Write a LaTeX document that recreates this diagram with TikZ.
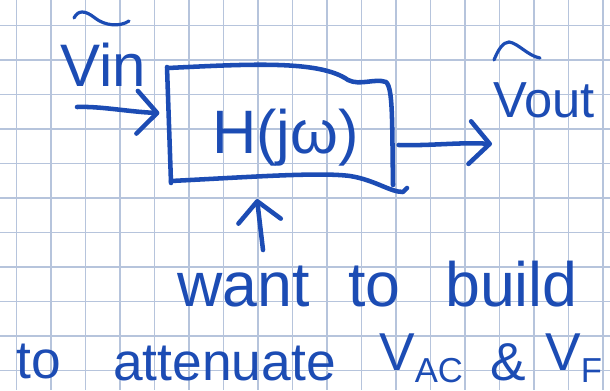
\documentclass[tikz,border=0pt]{standalone}
\usepackage{fontspec}
\setmainfont{Liberation Sans}
\usetikzlibrary{arrows.meta}
\definecolor{ink}{RGB}{28,76,180}
\definecolor{gridc}{RGB}{182,196,220}
\begin{document}
\begin{tikzpicture}[x=0.75pt,y=-0.75pt,
  pen/.style={draw=ink, line width=3.4pt, line cap=round, line join=round},
  accent/.style={draw=ink, line width=2.4pt, line cap=round},
  hw/.style={text=ink, inner sep=0pt, anchor=base west},
  barb/.style={-{Straight Barb[length=15pt,width=32pt,round]}},
  gridline/.style={draw=gridc, line width=1.1pt}]
\fill[white] (0,0) rectangle (610,390);
\useasboundingbox (0,0) rectangle (610,390);
% grid paper
\foreach \i in {0,...,17} \draw[gridline] ({16.3+34.5*\i},0) -- ++(0,390);
\foreach \j in {0,...,10} \draw[gridline] (0,{25.3+34.5*\j}) -- ++(610,0);
% block
\node[minimum width=168pt, minimum height=87pt, inner sep=0pt] (box) at (281,125) {};
\draw[pen] (168,68) .. controls (250,64) and (320,60) .. (348,80)
  .. controls (360,86) and (375,78) .. (386,82)
  .. controls (393,88) and (392,120) .. (393,185);
\draw[pen] (167,67) -- (171,183);
\draw[pen] (171,181) .. controls (250,177) and (320,172) .. (350,176)
  .. controls (375,180) and (390,192) .. (403,192) -- (407,188);
\node[hw, font=\fontsize{46}{46}\selectfont] (h) at (212,153) {H(jω)};
% input
\node[hw, font=\fontsize{45}{45}\selectfont] (vin) at (60,86) {Vin};
\draw[accent] (74,18) .. controls (78,10) and (85,10) .. (95,18) .. controls (105,26) and (120,27) .. (129,21);
\coordinate (inS) at (77,107);
\draw[pen, barb] (inS) .. controls (100,106) and (130,112) .. ([shift={(-7pt,9pt)}]box.west);
% output
\node[hw, font=\fontsize{38}{38}\selectfont] (vout) at (493,117) {Vout};
\draw[accent] (494,60) .. controls (498,50) and (503,42) .. (509,42) .. controls (518,43) and (528,56) .. (540,58);
\draw[pen, barb] ([shift={(4pt,-15pt)}]box.east) .. controls (430,146) and (460,142) .. (492,144);
% note
\coordinate (upTail) at (263,250);
\coordinate (upTip) at (257,199);
\draw[pen, barb] (upTail) -- (upTip);
\node[hw, font=\fontsize{47}{47}\selectfont] (w1) at (177,306) {want};
\node[hw, font=\fontsize{47}{47}\selectfont] (w2) at (348,306) {to};
\node[hw, font=\fontsize{47}{47}\selectfont] (w3) at (445,306) {build};
\node[hw, font=\fontsize{40}{40}\selectfont] (w4) at (16,378) {to};
\node[hw, font=\fontsize{40}{40}\selectfont] (w5) at (113,380) {attenuate};
\node[hw, font=\fontsize{40}{40}\selectfont] (w6) at (379,370) {V\raisebox{-9pt}{\fontsize{26}{26}\selectfont AC}};
\node[hw, font=\fontsize{40}{40}\selectfont] (w7) at (490,380) {\&};
\node[hw, font=\fontsize{40}{40}\selectfont] (w8) at (545,370) {V\raisebox{-9pt}{\fontsize{26}{26}\selectfont F}};
\end{tikzpicture}
\end{document}
